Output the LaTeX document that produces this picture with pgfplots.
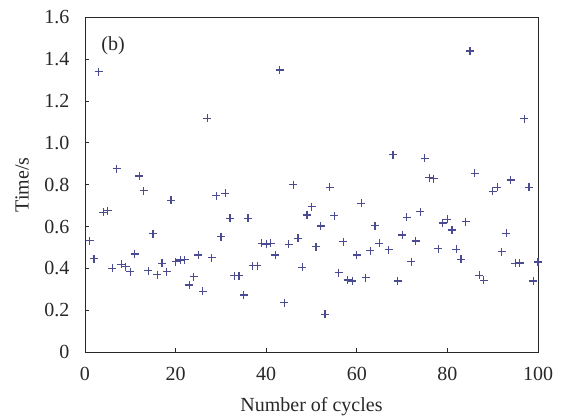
\documentclass[border=0pt]{standalone}
\usepackage{pgfplots}
\pgfplotsset{compat=1.18}
\usepackage{fontspec}
\setmainfont{Liberation Serif}
\definecolor{markc}{RGB}{75,75,145}
\definecolor{axc}{RGB}{40,40,40}
\begin{document}
\begin{tikzpicture}
\useasboundingbox (-85pt,-67pt) rectangle (477pt,352pt);
\begin{axis}[
  at={(0,0)}, anchor=south west,
  scale only axis, width=453pt, height=334.5pt,
  xmin=0, xmax=100, ymin=0, ymax=1.6,
  xtick={0,20,40,60,80,100},
  xticklabels={0,20,40,60,80,100},
  ytick={0,0.2,0.4,0.6,0.8,1.0,1.2,1.4,1.6},
  yticklabels={0,0.2,0.4,0.6,0.8,1.0,1.2,1.4,1.6},
  tick align=inside, xtick pos=bottom, ytick pos=left,
  major tick length=4pt,
  axis line style={axc, line width=0.9pt},
  every tick/.style={axc, line width=0.9pt},
  ticklabel style={font=\fontsize{20}{24}\selectfont, text=axc},
  xticklabel style={yshift=-12pt},
  yticklabel style={xshift=-12pt},
  label style={font=\fontsize{20}{24}\selectfont, text=axc},
  xlabel={Number of cycles},
  ylabel={Time/s},
  xlabel style={at={(axis description cs:0.5,-0.1644)}, anchor=center},
  ylabel style={at={(axis description cs:-0.139,0.5)}, anchor=center, rotate=0},
  clip=true,
]
\addplot[only marks, mark=+, mark size=4pt, markc, line width=1.2pt] coordinates {
(1,0.533) (2,0.447) (3,1.341) (4,0.668) (5,0.675) (6,0.400) (7,0.876) (8,0.420)
(9,0.408) (10,0.384) (11,0.469) (12,0.842) (13,0.771) (14,0.388) (15,0.565)
(16,0.370) (17,0.424) (18,0.384) (19,0.725) (20,0.432) (21,0.440) (22,0.442)
(23,0.320) (24,0.360) (25,0.464) (26,0.290) (27,1.118) (28,0.451) (29,0.748)
(30,0.552) (31,0.760) (32,0.639) (33,0.364) (34,0.364) (35,0.273) (36,0.639)
(37,0.413) (38,0.413) (39,0.520) (40,0.515) (41,0.520) (42,0.464) (43,1.349)
(44,0.236) (45,0.515) (46,0.801) (47,0.544) (48,0.405) (49,0.655) (50,0.695)
(51,0.504) (52,0.603) (53,0.180) (54,0.787) (55,0.651) (56,0.380) (57,0.528)
(58,0.344) (59,0.340) (60,0.464) (61,0.711) (62,0.356) (63,0.485) (64,0.604)
(65,0.520) (67,0.490) (68,0.943) (69,0.340) (70,0.560) (71,0.644) (72,0.432)
(73,0.531) (74,0.671) (75,0.927) (76,0.833) (77,0.829) (78,0.495) (79,0.617)
(80,0.634) (81,0.584) (82,0.491) (83,0.443) (84,0.623) (85,1.440) (86,0.855)
(87,0.366) (88,0.342) (90,0.768) (91,0.787) (92,0.480) (93,0.568) (94,0.823)
(95,0.424) (96,0.426) (97,1.116) (98,0.787) (99,0.340) (100,0.430)
};
\node[font=\fontsize{20}{24}\selectfont, text=axc] at (axis cs:6.2,1.464) {(b)};
\end{axis}
\end{tikzpicture}
\end{document}
